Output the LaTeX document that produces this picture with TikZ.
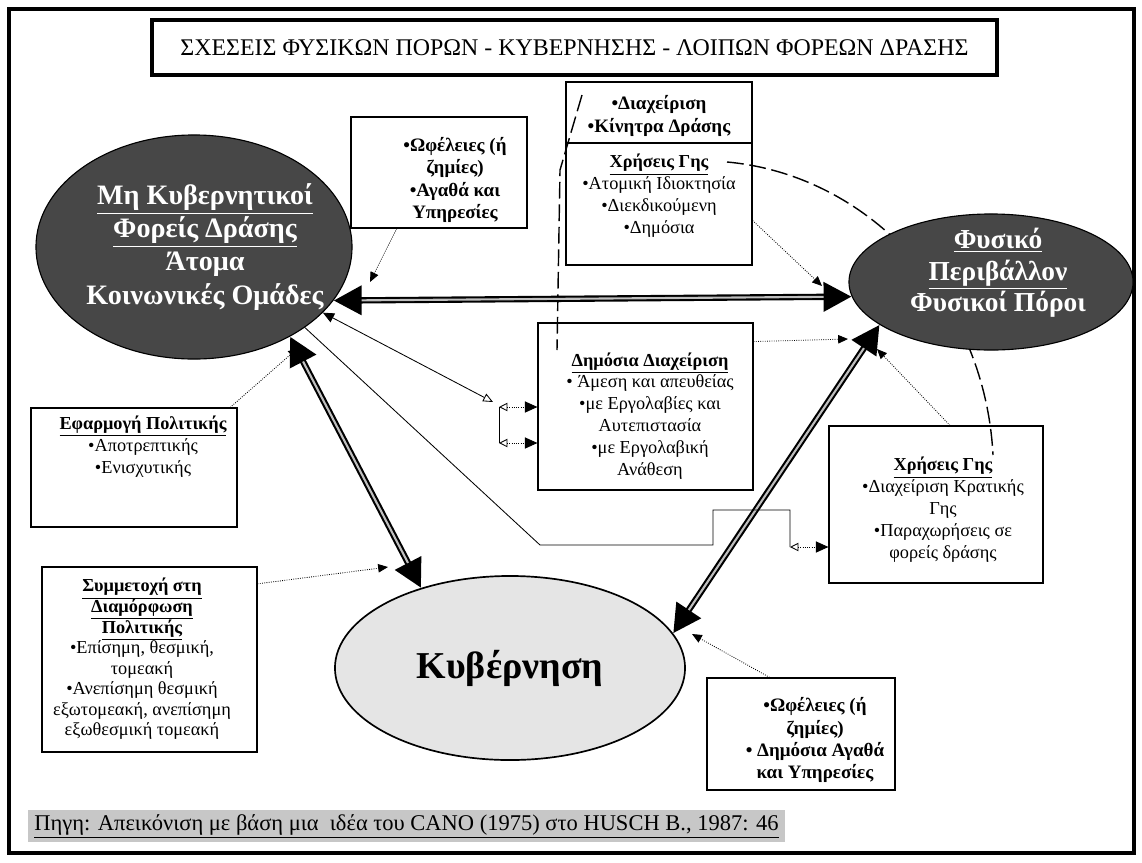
\documentclass[tikz,border=0pt]{standalone}
\usepackage{fontspec}
\setmainfont{Liberation Serif}
\usepackage{tikz}
\usetikzlibrary{shapes,arrows,arrows.meta,backgrounds,positioning,calc}

\tikzset{
  box/.style={shape=rectangle,draw,line width=0.8pt},
  txt/.style={align=center,inner sep=1pt,font=\fontsize{13}{15.6}\selectfont},
  boldtxt/.style={txt,font=\fontsize{13.5}{15.7}\selectfont\bfseries},
  darkell/.style={shape=ellipse,draw,line width=0.8pt,fill=black!72},
  elltext/.style={align=center,inner sep=0pt,text=white,
    font=\fontsize{20}{23.5}\selectfont\bfseries},
  bigarrow/.style={line width=4.5pt,
    {Triangle[length=20pt,width=20pt]}-{Triangle[length=20pt,width=20pt]}},
  bigcore/.style={line width=1.5pt,draw=black!25,shorten <=20pt,shorten >=20pt},
  thinline/.style={line width=0.6pt},
  dotarrow/.style={line width=0.6pt,densely dotted,-{Triangle[length=7pt,width=6pt]}},
  stub/.style={line width=0.6pt,densely dotted,
    {Triangle[open,length=6pt,width=6pt]}-{Triangle[length=9pt,width=8pt]}},
  longdash/.style={line width=1pt,dash pattern=on 12pt off 4pt},
}

\begin{document}
\begin{tikzpicture}[x=0.025cm,y=-0.025cm]
  \useasboundingbox (0,0) rectangle (1142,862);
  % frame
  \draw[line width=2.8pt] (9,9) rectangle (1134,853);

  % title
  \node[draw,line width=3pt,minimum width=21.125cm,minimum height=1.375cm,
    font=\fontsize{17}{20}\selectfont] (title) at (574.5,47.5)
    {ΣΧΕΣΕΙΣ ΦΥΣΙΚΩΝ ΠΟΡΩΝ - ΚΥΒΕΡΝΗΣΗΣ - ΛΟΙΠΩΝ ΦΟΡΕΩΝ ΔΡΑΣΗΣ};

  % ellipses
  \node[darkell,minimum width=7.9cm,minimum height=5.6cm] (ngo) at (194,247) {};
  \node[elltext] (ngotext) at (205,247)
    {\underline{Μη Κυβερνητικοί}\\ \underline{Φορείς Δράσης}\\ Άτομα\\ Κοινωνικές Ομάδες};
  \node[darkell,minimum width=7.1cm,minimum height=3.4cm] (nature) at (991,282) {};
  \node[elltext,font=\fontsize{19.5}{22.5}\selectfont\bfseries] (naturetext) at (998,273)
    {\underline{Φυσικό}\\ \underline{Περιβάλλον}\\ Φυσικοί Πόροι};
  \node[shape=ellipse,draw,line width=1.2pt,fill=black!10,minimum width=8.75cm,
    minimum height=4.6cm,font=\fontsize{27}{32}\selectfont\bfseries] (gov) at (510,668)
    {Κυβέρνηση};

  % boxes
  \node[box,minimum width=4.4cm,minimum height=2.775cm] (benefit1) at (439,172.5) {};
  \node[box,minimum width=4.65cm,minimum height=1.525cm] (manage) at (659,112.5) {};
  \node[box,minimum width=4.65cm,minimum height=3.05cm] (landuse1) at (659,204) {};
  \node[box,minimum width=5.375cm,minimum height=4.175cm] (public) at (645.5,406.5) {};
  \node[box,minimum width=5.15cm,minimum height=2.975cm] (policy) at (134,467.5) {};
  \node[box,minimum width=5.375cm,minimum height=4.625cm] (particip) at (149.5,659.5) {};
  \node[box,minimum width=5.35cm,minimum height=3.925cm] (landuse2) at (936,504.5) {};
  \node[box,minimum width=4.7cm,minimum height=2.8cm] (benefit2) at (801,734) {};

  % box texts
  \node[boldtxt] (benefit1text) at (455,180)
    {•Ωφέλειες (ή\\ ζημίες)\\ •Αγαθά και\\ Υπηρεσίες};
  \node[boldtxt] (managetext) at (659,116) {•Διαχείριση\\ •Κίνητρα Δράσης};
  \node[txt] (landuse1text) at (659,196)
    {\textbf{\underline{Χρήσεις Γης}}\\ •Ατομική Ιδιοκτησία\\ •Διεκδικούμενη\\ •Δημόσια};
  \node[txt] (publictext) at (650,416)
    {\textbf{\underline{Δημόσια Διαχείριση}}\\ • Άμεση και απευθείας\\ •με Εργολαβίες και\\
     Αυτεπιστασία\\ •με Εργολαβική\\ Ανάθεση};
  \node[txt] (policytext) at (143,447)
    {\textbf{\underline{Εφαρμογή Πολιτικής}}\\ •Αποτρεπτικής\\ •Ενισχυτικής};
  \node[txt,font=\fontsize{13}{14.6}\selectfont] (partictext) at (142,659)
    {\textbf{\underline{Συμμετοχή στη}}\\ \textbf{\underline{Διαμόρφωση}}\\
     \textbf{\underline{Πολιτικής}}\\ •Επίσημη, θεσμική,\\ τομεακή\\ •Ανεπίσημη θεσμική\\
     εξωτομεακή, ανεπίσημη\\ εξωθεσμική τομεακή};
  \node[txt] (landuse2text) at (943,510)
    {\textbf{\underline{Χρήσεις Γης}}\\ •Διαχείριση Κρατικής\\ Γης\\ •Παραχωρήσεις σε\\ φορείς δράσης};
  \node[boldtxt] (benefit2text) at (815,740)
    {•Ωφέλειες (ή\\ ζημίες)\\ • Δημόσια Αγαθά\\ και Υπηρεσίες};

  % source
  \node[fill=black!22,minimum width=18.925cm,minimum height=0.8cm,
    font=\fontsize{16}{19}\selectfont] (source) at (406.5,826)
    {\underline{Πηγη: Απεικόνιση με βάση μια\ \ ιδέα του CANO (1975) στο HUSCH B., 1987: 46}};

  % free ends and bends
  \coordinate (b1tip) at (370,282);
  \coordinate (l1tip) at (822,286);
  \coordinate (pubtip) at (848,339);
  \coordinate (l2tip) at (877,349);
  \coordinate (poltip) at (298,348);
  \coordinate (partip) at (388,567);
  \coordinate (b2tip) at (692,634);
  \coordinate (brk0) at (493,402);
  \coordinate (brk1) at (499,407);
  \coordinate (brk2) at (499,443);
  \coordinate (r1) at (540,545);
  \coordinate (r2) at (713,545);
  \coordinate (r3) at (713,510);
  \coordinate (r4) at (790,510);
  \coordinate (r5) at (790,547);
  \coordinate (d1) at (582,95);
  \coordinate (d2) at (560,170);
  \coordinate (d3) at (557,350);
  \coordinate (a1) at (727,162);
  \coordinate (a2) at (993,455);

  % dashed links
  \begin{scope}[on background layer]
    \draw[longdash] (a1) .. controls (870,175) and (985,300) .. (a2);
  \end{scope}
  \draw[longdash] (d1) -- (d2) -- (d3);

  % main flows
  \foreach \a/\b in {ngo.-21/nature.186, ngo.-43/gov.138, nature.201/gov.12} {
    \draw[bigarrow] (\a) -- (\b);
    \draw[bigcore] (\a) -- (\b);
  }

  % thin links
  \draw[thinline,{Triangle[length=8pt,width=7pt]}-{Triangle[open,length=7pt,width=6pt]}]
    (ngo.-27) -- (brk0);
  \draw[thinline] (brk1) -- (brk2);
  \draw[stub] (brk1) -- (public.west |- brk1);
  \draw[stub] (brk2) -- (public.west |- brk2);
  \draw[thinline] (ngo.-36) -- (r1) -- (r2) -- (r3) -- (r4) -- (r5);
  \draw[stub] (r5) -- (landuse2.west |- r5);

  % dotted links
  \draw[dotarrow] (benefit1.-127) -- (b1tip);
  \draw[dotarrow] (landuse1.-10) -- (l1tip);
  \draw[dotarrow] (public.31) -- (pubtip);
  \draw[dotarrow] (landuse2.80) -- (l2tip);
  \draw[dotarrow] (policy.32) -- (poltip);
  \draw[dotarrow] (particip.35) -- (partip);
  \draw[dotarrow] (benefit2.119) -- (b2tip);
\end{tikzpicture}
\end{document}
